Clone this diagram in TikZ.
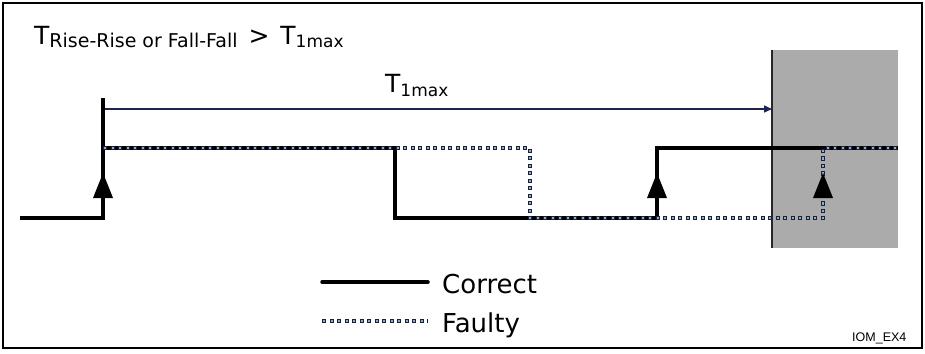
\documentclass[tikz,border=0pt]{standalone}
\usepackage{fontspec}
\setmainfont{DejaVu Sans}
\newfontfamily\arialf{Liberation Sans}
\usetikzlibrary{arrows.meta}
\definecolor{sqblue}{HTML}{8EAADB}
\definecolor{sqdark}{HTML}{1A2233}
\definecolor{navy}{HTML}{1C2451}
\definecolor{greyfill}{HTML}{ABABAB}
\newcommand{\bigf}{\fontsize{25}{25}\selectfont}
\newcommand{\subf}{\fontsize{17}{17}\selectfont}
\newcommand{\subtf}{\fontsize{19}{19}\selectfont}
\tikzset{
  correct/.style={line width=3.5pt, black},
  faulty/.style={line width=4.2pt, sqdark, dash pattern=on 4.2pt off 3.3pt,
    postaction={draw=sqblue, line width=2.2pt, dash pattern=on 2.2pt off 5.3pt, dash phase=6.5pt}},
  edgehead/.style={fill=black},
  lbl/.style={inner sep=0pt, anchor=base west},
}
\begin{document}
\begin{tikzpicture}[x=1pt,y=-1pt]
\useasboundingbox (0,0) rectangle (925,353);
% frame
\draw[line width=2pt] (3,3) rectangle (922,348);
% shaded region
\fill[greyfill] (772,50) rectangle (898,248);
\draw[line width=1.2pt, black!85] (772,50) -- (772,248);
% title
\node[lbl] (title) at (34,45) {\bigf T\raisebox{-3pt}{\subtf Rise-Rise or Fall-Fall}\hspace{3pt} > \hspace{3pt}T\raisebox{-3pt}{\subf 1max}};
% T1max arrow
\coordinate (tstart) at (103,109);
\coordinate (tend) at (772,109);
\draw[navy, line width=1.5pt, -{Triangle[length=8pt,width=7pt]}] (tstart) -- (tend);
\node[lbl] (tlabel) at (385,92) {\bigf T\raisebox{-5pt}{\subf 1max}};
% tick
\draw[correct] (103,98) -- (103,148);
% correct signal
\draw[correct] (20,218) -- (103,218) -- (103,148) -- (395,148) -- (395,218) -- (657,218) -- (657,148) -- (898,148);
% faulty signal
\draw[faulty] (103,148) -- (530,148) -- (530,218) -- (823,218) -- (823,148) -- (898,148);
% rising edge arrowheads
\fill[edgehead] (103,173) -- (93,198) -- (113,198) -- cycle;
\fill[edgehead] (657,173) -- (647,198) -- (667,198) -- cycle;
\fill[edgehead] (823,173) -- (813,198) -- (833,198) -- cycle;
% legend
\coordinate (lc1) at (322,282);
\coordinate (lc2) at (428,282);
\draw[correct, line cap=round] (lc1) -- (lc2);
\node[lbl] (lcorrect) at (442,293) {\fontsize{26}{26}\selectfont Correct};
\coordinate (lf1) at (322,321);
\coordinate (lf2) at (428,321);
\draw[faulty] (lf1) -- (lf2);
\node[lbl] (lfaulty) at (442,332) {\fontsize{26}{26}\selectfont Faulty};
% id
\node[lbl] (id) at (852,341) {\arialf\fontsize{12.5}{12.5}\selectfont IOM\_EX4};
\end{tikzpicture}
\end{document}
